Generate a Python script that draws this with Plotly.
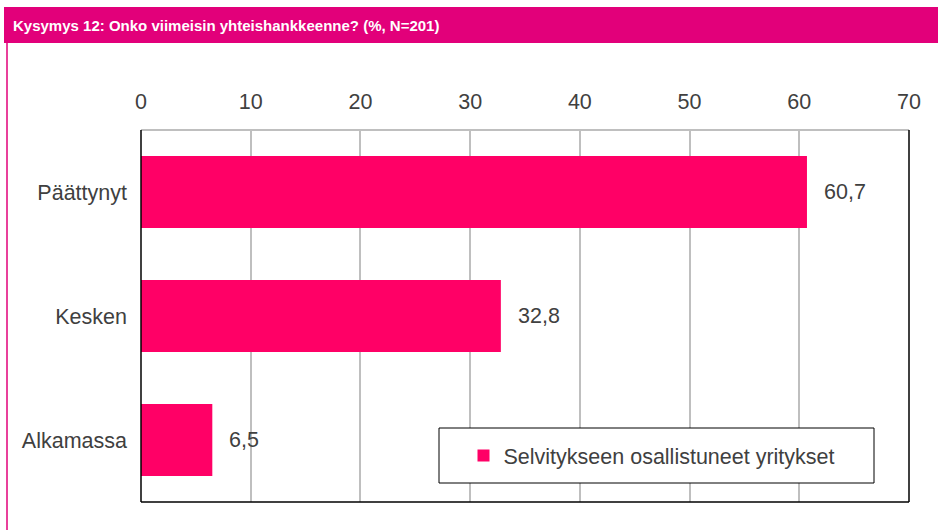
import plotly.graph_objects as go

categories = ["Päättynyt", "Kesken", "Alkamassa"]
values = [60.7, 32.8, 6.5]
series_name = "Selvitykseen osallistuneet yritykset"
title_text = "Kysymys 12: Onko viimeisin yhteishankkeenne? (%, N=201)"
x_ticks = [0, 10, 20, 30, 40, 50, 60, 70]

W, H = 938, 530
L, R, T, B = 141, 938 - 909, 130, 530 - 502
PW, PH = W - L - R, H - T - B

def px(x):
    return (x - L) / PW

def py(y):
    return (H - B - y) / PH

BAR = "#FF0066"
MAG = "#E2007A"
TXT = "#404040"
FONT = "Liberation Sans"
FS = 21.5

fig = go.Figure()
fig.add_trace(go.Bar(
    y=categories, x=values, orientation="h", name=series_name,
    marker=dict(color=BAR, line=dict(width=0)), width=0.58,
    showlegend=True,
))

annotations = []
for c, v in zip(categories, values):
    annotations.append(dict(
        x=v, y=c, xref="x", yref="y", text=f"{v:.1f}".replace(".", ","),
        showarrow=False, xanchor="left", xshift=15,
        font=dict(family=FONT, size=FS, color=TXT),
    ))
annotations.append(dict(
    x=px(11), y=py(25), xref="paper", yref="paper", text=title_text,
    showarrow=False, xanchor="left", yanchor="middle",
    font=dict(family=FONT, size=15, color="white", weight="bold"),
))

shapes = [
    # title bar
    dict(type="rect", xref="paper", yref="paper", x0=px(4), x1=px(938), y0=py(43), y1=py(7),
         fillcolor=MAG, line=dict(width=0), layer="below"),
    # left frame line
    dict(type="line", xref="paper", yref="paper", x0=px(7), x1=px(7), y0=py(43), y1=py(530),
         line=dict(color=MAG, width=1.5)),
    # plot borders
    dict(type="line", xref="paper", yref="paper", x0=0, x1=1, y0=1, y1=1,
         line=dict(color="#BFBFBF", width=2)),
    dict(type="line", xref="paper", yref="paper", x0=0, x1=1, y0=0, y1=0,
         line=dict(color="#000000", width=1.5)),
    dict(type="line", xref="paper", yref="paper", x0=1, x1=1, y0=0, y1=1,
         line=dict(color="#000000", width=1.5)),
    dict(type="line", xref="paper", yref="paper", x0=0, x1=0, y0=0, y1=1,
         line=dict(color="#000000", width=1.5)),
    # legend box
    dict(type="rect", xref="paper", yref="paper", x0=px(439), x1=px(874), y0=py(483), y1=py(428),
         fillcolor="white", line=dict(color="#000000", width=1)),
]

fig.update_layout(
    width=W, height=H,
    margin=dict(l=L, r=R, t=T, b=B, pad=0),
    paper_bgcolor="white", plot_bgcolor="white",
    font=dict(family=FONT, size=FS, color=TXT),
    xaxis=dict(
        side="top", range=[0, 70], tickvals=x_ticks, ticktext=[str(t) for t in x_ticks],
        showgrid=True, gridcolor="#BFBFBF", gridwidth=2, zeroline=False,
        showline=False, ticks="", ticklabelstandoff=16,
        tickfont=dict(family=FONT, size=FS, color=TXT),
    ),
    yaxis=dict(
        autorange="reversed", showgrid=False, zeroline=False, showline=False,
        ticks="", ticklabelstandoff=13,
        tickfont=dict(family=FONT, size=FS, color=TXT),
    ),
    bargap=0.42,
    showlegend=True,
    legend=dict(
        x=px(652), y=py(455.5), xanchor="center", yanchor="middle",
        bgcolor="rgba(0,0,0,0)", borderwidth=0,
        font=dict(family=FONT, size=FS, color=TXT),
    ),
    annotations=annotations,
    shapes=shapes,
)

fig.write_html("out.html", config={"displayModeBar": False},
               post_script="document.body.style.margin='0px';")
